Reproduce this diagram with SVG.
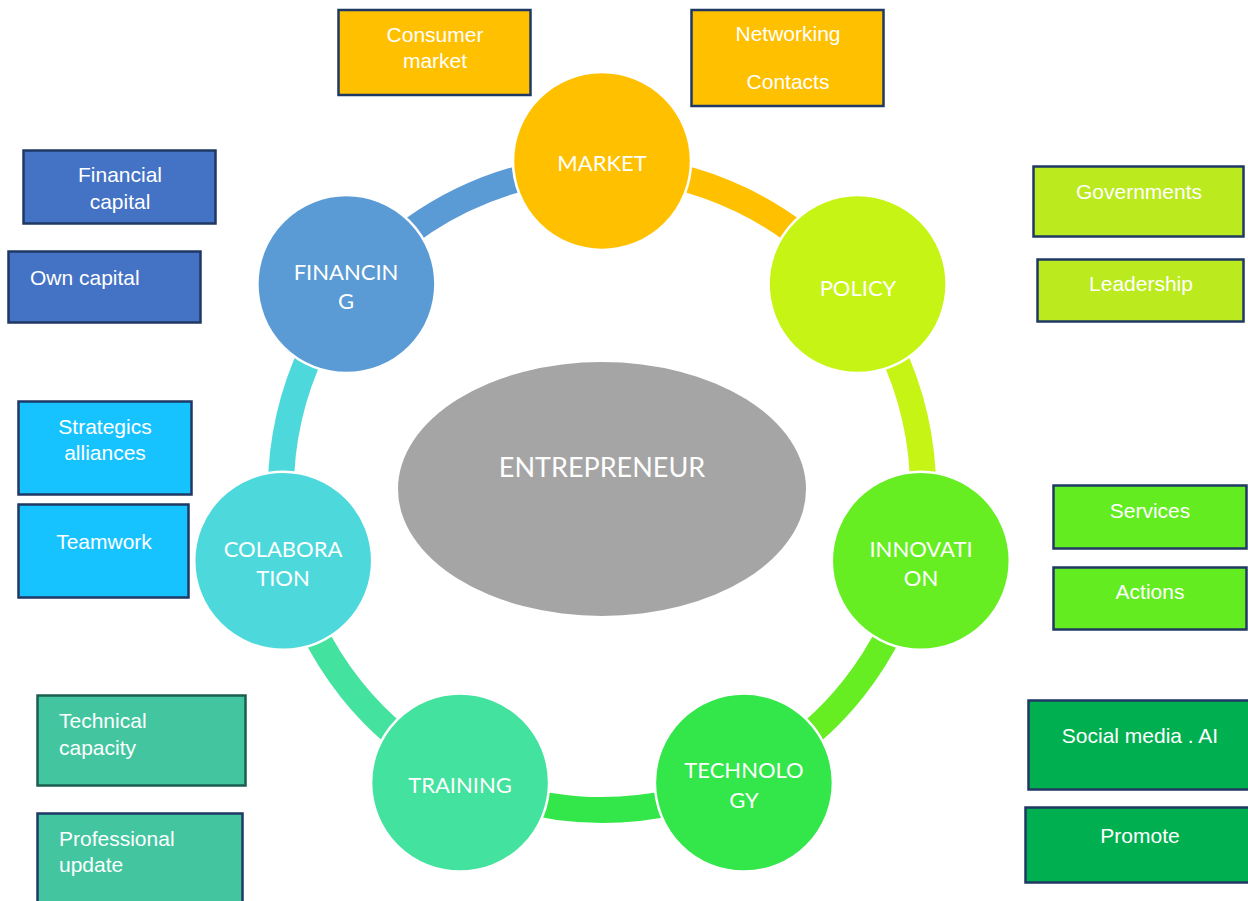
<svg xmlns="http://www.w3.org/2000/svg" width="1248" height="901" viewBox="0 0 1248 901">
  <style>
    .node circle { stroke: #ffffff; stroke-width: 2.5; }
    .node text { font-family: "Lato", "Open Sans", sans-serif; font-size: 22px; fill: #ffffff; text-anchor: middle; dominant-baseline: central; }
    .hub text { font-family: "Lato", "Open Sans", sans-serif; font-size: 27px; fill: #ffffff; text-anchor: middle; dominant-baseline: central; }
    .box rect { stroke: #1f3864; stroke-width: 2.5; }
    .box text { font-family: "Liberation Sans", Arial, sans-serif; font-size: 21px; fill: #ffffff; dominant-baseline: central; }
    .box text.c { text-anchor: middle; }
    .link { fill: none; stroke-width: 26; }
  </style>
  <rect width="1248" height="901" fill="#ffffff"/>

  <!-- ring segments between neighbouring stages (centre 602,489 / radius 321) -->
  <g id="connectors">
    <path class="link" stroke="#ffc000" d="M602 168 A321 321 0 0 1 853 288.9"/>
    <path class="link" stroke="#c6f414" d="M853 288.9 A321 321 0 0 1 914.9 560.4"/>
    <path class="link" stroke="#66ee22" d="M914.9 560.4 A321 321 0 0 1 741.3 778.2"/>
    <path class="link" stroke="#33e64a" d="M741.3 778.2 A321 321 0 0 1 462.7 778.2"/>
    <path class="link" stroke="#43e29e" d="M462.7 778.2 A321 321 0 0 1 289.1 560.4"/>
    <path class="link" stroke="#4dd9db" d="M289.1 560.4 A321 321 0 0 1 351 288.9"/>
    <path class="link" stroke="#5b9bd5" d="M351 288.9 A321 321 0 0 1 602 168"/>
  </g>

  <!-- centre -->
  <g id="entrepreneur" class="hub">
    <ellipse cx="602" cy="489" rx="204" ry="127" fill="#a5a5a5"/>
    <text x="602" y="466">ENTREPRENEUR</text>
  </g>

  <!-- stages -->
  <g id="market" class="node">
    <circle cx="602" cy="161" r="89" fill="#ffc000"/>
    <text x="602" y="162">MARKET</text>
  </g>
  <g id="policy" class="node">
    <circle cx="857.6" cy="284.1" r="89" fill="#c6f414"/>
    <text x="858" y="287">POLICY</text>
  </g>
  <g id="innovation" class="node">
    <circle cx="920.8" cy="560.8" r="89" fill="#66ee22"/>
    <text x="921" y="548">INNOVATI</text>
    <text x="921" y="577">ON</text>
  </g>
  <g id="technology" class="node">
    <circle cx="743.9" cy="782.6" r="89" fill="#33e64a"/>
    <text x="744" y="769">TECHNOLO</text>
    <text x="744" y="799">GY</text>
  </g>
  <g id="training" class="node">
    <circle cx="460.1" cy="782.6" r="89" fill="#43e29e"/>
    <text x="460" y="784">TRAINING</text>
  </g>
  <g id="colaboration" class="node">
    <circle cx="283.2" cy="560.8" r="89" fill="#4dd9db"/>
    <text x="283" y="548">COLABORA</text>
    <text x="283" y="577">TION</text>
  </g>
  <g id="financing" class="node">
    <circle cx="346.4" cy="284.1" r="89" fill="#5b9bd5"/>
    <text x="346" y="271">FINANCIN</text>
    <text x="346" y="300">G</text>
  </g>

  <!-- detail boxes -->
  <g id="consumer-market" class="box">
    <rect x="338.5" y="10" width="192" height="85" fill="#ffc000"/>
    <text class="c" x="435" y="34">Consumer</text>
    <text class="c" x="435" y="60">market</text>
  </g>
  <g id="networking-contacts" class="box">
    <rect x="691.5" y="10" width="192" height="96" fill="#ffc000"/>
    <text class="c" x="788" y="33">Networking</text>
    <text class="c" x="788" y="81">Contacts</text>
  </g>
  <g id="financial-capital" class="box">
    <rect x="23.5" y="150.5" width="192" height="73" fill="#4472c4"/>
    <text class="c" x="120" y="174">Financial</text>
    <text class="c" x="120" y="201">capital</text>
  </g>
  <g id="own-capital" class="box">
    <rect x="8.5" y="251.5" width="192" height="71" fill="#4472c4"/>
    <text x="30" y="277">Own capital</text>
  </g>
  <g id="governments" class="box">
    <rect x="1033.5" y="166.5" width="210" height="70" fill="#bbea1e"/>
    <text class="c" x="1139" y="191">Governments</text>
  </g>
  <g id="leadership" class="box">
    <rect x="1037.5" y="259.5" width="206" height="62" fill="#bbea1e"/>
    <text class="c" x="1141" y="283">Leadership</text>
  </g>
  <g id="strategic-alliances" class="box">
    <rect x="18.5" y="401.5" width="173" height="93" fill="#17c3ff"/>
    <text class="c" x="105" y="426">Strategics</text>
    <text class="c" x="105" y="452">alliances</text>
  </g>
  <g id="teamwork" class="box">
    <rect x="18.5" y="504.5" width="170" height="93" fill="#17c3ff"/>
    <text class="c" x="104" y="541">Teamwork</text>
  </g>
  <g id="services" class="box">
    <rect x="1053.5" y="485.5" width="193" height="63" fill="#63ec1f"/>
    <text class="c" x="1150" y="510">Services</text>
  </g>
  <g id="actions" class="box">
    <rect x="1053.5" y="567.5" width="193" height="62" fill="#63ec1f"/>
    <text class="c" x="1150" y="591">Actions</text>
  </g>
  <g id="technical-capacity" class="box">
    <rect x="37.5" y="695.5" width="208" height="90" fill="#43c6a0" style="stroke:#1b5e50"/>
    <text x="59" y="720">Technical</text>
    <text x="59" y="747">capacity</text>
  </g>
  <g id="professional-update" class="box">
    <rect x="37.5" y="813.5" width="205" height="95" fill="#43c6a0"/>
    <text x="59" y="838">Professional</text>
    <text x="59" y="864">update</text>
  </g>
  <g id="social-media-ai" class="box">
    <rect x="1028.5" y="700.5" width="225" height="89" fill="#00b050"/>
    <text class="c" x="1140" y="735">Social media . AI</text>
  </g>
  <g id="promote" class="box">
    <rect x="1025.5" y="807.5" width="228" height="75" fill="#00b050"/>
    <text class="c" x="1140" y="835">Promote</text>
  </g>
</svg>
